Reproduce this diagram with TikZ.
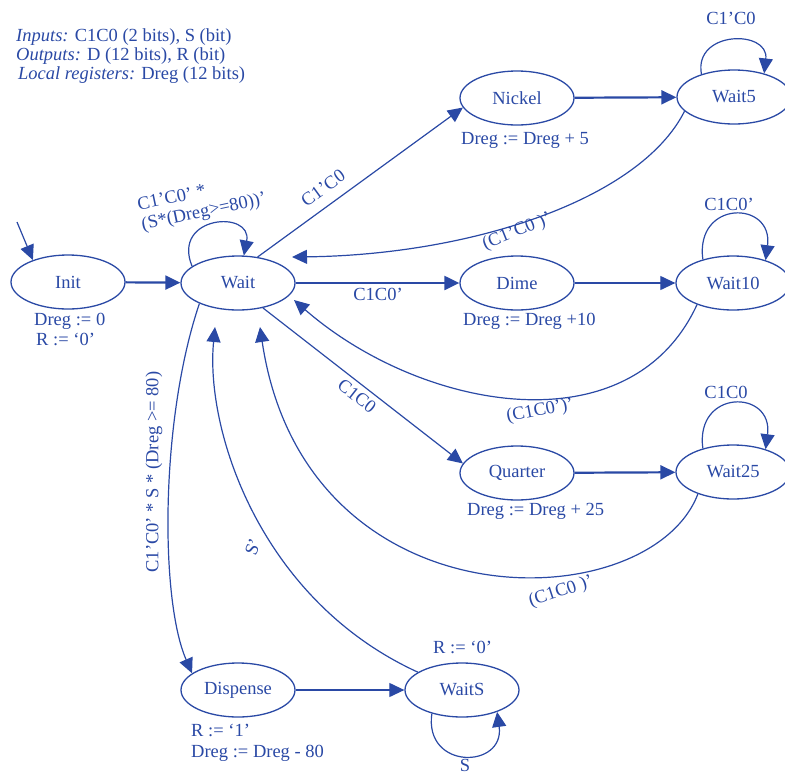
\documentclass[tikz,border=0pt]{standalone}
\usepackage{fontspec}
\setmainfont{Liberation Serif}
\usetikzlibrary{arrows.meta,shapes.geometric}
\definecolor{fsm}{RGB}{42,73,165}
\begin{document}
\begin{tikzpicture}[x=1pt,y=-1pt,
  every node/.style={font=\fontsize{18.5}{20}\selectfont, text=fsm, inner sep=0pt},
  state/.style={draw=fsm, ellipse, line width=1.3pt, minimum width=114pt, minimum height=54pt},
  arr/.style={draw=fsm, line width=1.2pt, -{Triangle[length=15pt,width=14pt]}},
  heavy/.style={line width=2.2pt},
  lbl/.style={anchor=base west},
  clbl/.style={anchor=base}]
\useasboundingbox (0,0) rectangle (785,774);
\clip (0,0) rectangle (785,774);

% header
\node[lbl] (hdrA) at (16,41) {\textit{Inputs:} C1C0 (2 bits), S (bit)};
\node[lbl] (hdrB) at (16,60) {\textit{Outputs:} D (12 bits), R (bit)};
\node[lbl] (hdrC) at (18,79) {\textit{Local registers:} Dreg (12 bits)};

% states
\node[state] (init)     at (68,282)  {Init};
\node[state] (wait)     at (238,283) {Wait};
\node[state] (nickel)   at (517,98)  {Nickel};
\node[state] (wait5)    at (734,97)  {Wait5};
\node[state] (dime)     at (517,283) {Dime};
\node[state] (wait10)   at (733,283) {Wait10};
\node[state] (quarter)  at (517,473) {Quarter};
\node[state] (wait25)   at (733,472) {Wait25};
\node[state] (dispense) at (238,690) {Dispense};
\node[state] (waitS)    at (462,690) {WaitS};

% actions
\node[lbl] (initA) at (34,325) {Dreg := 0};
\node[lbl] (initB) at (36,345) {R := `0'};
\node[lbl] (nickelA) at (461,144) {Dreg := Dreg + 5};
\node[lbl] (dimeA) at (463,325) {Dreg := Dreg +10};
\node[lbl] (quarterA) at (467,515) {Dreg := Dreg + 25};
\node[lbl] (dispA) at (191,736) {R := `1'};
\node[lbl] (dispB) at (191,757) {Dreg := Dreg - 80};
\node[lbl] (waitSA) at (433,653) {R := `0'};

% reset arrow
\coordinate (entry) at (17,222);
\draw[arr] (entry) -- (init.148);

% transitions
\draw[arr,heavy] (init) -- (wait);
\draw[arr] (wait.160) .. controls +(-21,-51) and +(9,-46) .. (wait.78);
\node[rotate=12, align=left] (tWait) at (202,203) {C1'C0' *\\(S*(Dreg>=80))'};

\draw[arr] (wait.53) -- (nickel.190);
\node[rotate=36] (tNickel) at (323,188) {C1'C0};
\draw[arr,heavy] (nickel) -- (wait5);
\draw[arr] (wait5.145) .. controls +(-8,-44) and +(5,-44) .. (wait5.38);
\node[clbl] (tW5) at (731,24) {C1'C0};
\draw[arr] (wait5.196) .. controls (640,200) and (470,255) .. ([shift={(54,-26)}]wait.center);
\node[rotate=22] (tW5back) at (517,232) {(C1'C0 )'};

\draw[arr,heavy] (wait) -- (dime);
\node[clbl] (tDime) at (378,300) {C1C0'};
\draw[arr] (dime) -- (wait10);
\draw[arr] (wait10.142) .. controls +(-8,-60) and +(8,-60) .. (wait10.35);
\node[clbl] (tW10) at (729,210) {C1C0'};
\draw[arr] (wait10.211) .. controls (630,450) and (420,410) .. ([shift={(56,17)}]wait.center);
\node[rotate=11] (tW10back) at (540,411) {(C1C0')'};

\draw[arr] (wait.-45) -- (quarter.170);
\node[rotate=-38] (tQuarter) at (357,396) {C1C0};
\draw[arr,heavy] (quarter) -- (wait25);
\draw[arr] (wait25.142) .. controls +(-8,-60) and +(8,-60) .. (wait25.35);
\node[clbl] (tW25) at (726,398) {C1C0};
\draw[arr] (wait25.212) .. controls (650,620) and (305,630) .. ([shift={(22,44)}]wait.center);
\node[rotate=18] (tW25back) at (561,592) {(C1C0 )'};

\draw[arr] (wait.208) .. controls (160,420) and (160,600) .. (dispense.160);
\node[rotate=90] (tDisp) at (154,472) {C1'C0' * S * (Dreg >= 80)};
\draw[arr] (dispense) -- (waitS);
\draw[arr] (waitS.218) .. controls +(-8,57) and +(8,57) .. (waitS.328);
\node[clbl] (tWS) at (465,771) {S};
\draw[arr] (waitS.158) .. controls (260,600) and (205,430) .. ([shift={(-23,44)}]wait.center);
\node[rotate=70] (tWSback) at (253,547) {S'};
\end{tikzpicture}
\end{document}
